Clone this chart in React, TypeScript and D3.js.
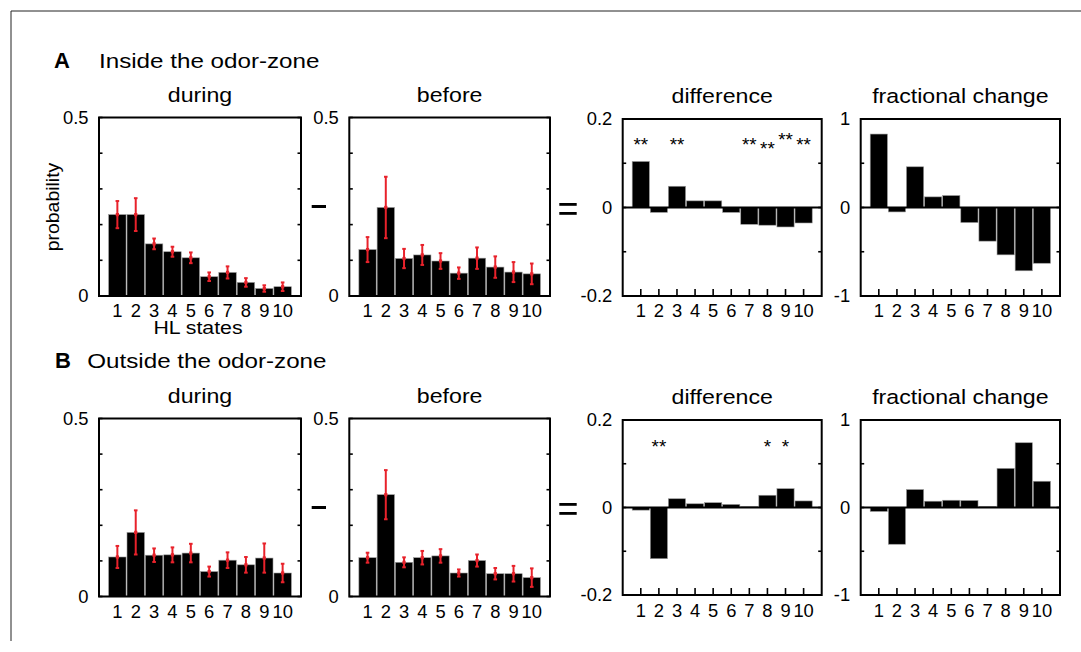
import React from "react";
import * as d3 from "d3";

// HL states 1..10
const states = [1, 2, 3, 4, 5, 6, 7, 8, 9, 10];

// A: inside the odor-zone
const duringInMean = [0.228, 0.228, 0.146, 0.124, 0.107, 0.054, 0.066, 0.038, 0.021, 0.026];
const duringInErr = [0.038, 0.046, 0.015, 0.014, 0.015, 0.012, 0.017, 0.012, 0.009, 0.012];
const beforeInMean = [0.13, 0.248, 0.105, 0.115, 0.098, 0.064, 0.106, 0.081, 0.067, 0.062];
const beforeInErr = [0.035, 0.086, 0.027, 0.028, 0.022, 0.016, 0.03, 0.03, 0.028, 0.029];
const diffIn = [0.104, -0.011, 0.048, 0.015, 0.015, -0.011, -0.038, -0.04, -0.044, -0.035];
const fracIn = [0.83, -0.05, 0.46, 0.12, 0.135, -0.17, -0.38, -0.535, -0.715, -0.63];
const starsIn = ["**", "", "**", "", "", "", "**", "**", "**", "**"];
const starLevelIn = [0.152, 0, 0.152, 0, 0, 0, 0.152, 0.143, 0.162, 0.152];

// B: outside the odor-zone
const duringOutMean = [0.111, 0.18, 0.116, 0.117, 0.122, 0.07, 0.102, 0.089, 0.108, 0.066];
const duringOutErr = [0.031, 0.062, 0.019, 0.021, 0.026, 0.014, 0.022, 0.022, 0.041, 0.026];
const beforeOutMean = [0.109, 0.286, 0.096, 0.109, 0.114, 0.066, 0.101, 0.064, 0.064, 0.053];
const beforeOutErr = [0.014, 0.069, 0.014, 0.019, 0.019, 0.01, 0.017, 0.016, 0.022, 0.026];
const diffOut = [-0.006, -0.117, 0.02, 0.0085, 0.011, 0.007, 0.002, 0.028, 0.043, 0.015];
const fracOut = [-0.045, -0.42, 0.205, 0.072, 0.083, 0.08, 0.011, 0.447, 0.74, 0.3];
const starsOut = ["", "**", "", "", "", "", "", "*", "*", ""];
const starLevelOut = [0, 0.147, 0, 0, 0, 0, 0, 0.147, 0.147, 0];

// axis ticks
const probTicks = [0, 0.1, 0.2, 0.3, 0.4, 0.5];
const probLabels = [[0, "0"], [0.5, "0.5"]];
const diffTicks = [-0.2, -0.1, 0, 0.1, 0.2];
const diffLabels = [[-0.2, "-0.2"], [0, "0"], [0.2, "0.2"]];
const fracTicks = [-1, -0.5, 0, 0.5, 1];
const fracLabels = [[-1, "-1"], [0, "0"], [1, "1"]];

const FONT = '"Liberation Sans", Arial, Helvetica, sans-serif';
const RED = "#e8222b";

function T({ x, y, size = 18, sx = 1, anchor = "start", weight = "normal", rot = 0, children }: any) {
  return (
    <text
      transform={`translate(${x},${y}) rotate(${rot}) scale(${sx},1)`}
      fontSize={size}
      fontFamily={FONT}
      fontWeight={weight}
      textAnchor={anchor}
      fill="#000"
    >
      {children}
    </text>
  );
}

function Panel(props: any) {
  const { x0, x1, y0, y1, domain, values, errors, ticks, labels, stars, starLevel, xTicks, title, lblOff } = props;
  const xs = d3.scaleLinear().domain([0, 11]).range([x0, x1]);
  const ys = d3.scaleLinear().domain(domain).range([y1, y0]);
  const bw = 0.95;
  const bwPx = xs(bw) - xs(0);
  const signed = domain[0] < 0;
  return (
    <g>
      <T x={(x0 + x1) / 2} y={y0 - 16} size={20.5} sx={1.13} anchor="middle">{title}</T>
      {values.map((v: number, i: number) => {
        const base = signed ? 0 : domain[0];
        const top = ys(Math.max(v, base));
        const h = Math.abs(ys(v) - ys(base));
        return (
          <rect key={i} x={xs(states[i]) - bwPx / 2} y={top} width={bwPx} height={h}
            fill="#000" stroke="#9a9a9a" strokeWidth={0.6} />
        );
      })}
      {errors && values.map((v: number, i: number) => {
        const cx = xs(states[i]);
        const a = ys(v + errors[i]);
        const b = ys(v - errors[i]);
        return (
          <g key={"e" + i} stroke={RED} strokeWidth={2}>
            <line x1={cx} x2={cx} y1={a} y2={b} />
            <line x1={cx - 1.8} x2={cx + 1.8} y1={a} y2={a} />
            <line x1={cx - 1.8} x2={cx + 1.8} y1={b} y2={b} />
            <rect x={cx - 1.6} y={ys(v) - 1.6} width={3.2} height={3.2} fill={RED} stroke="none" />
          </g>
        );
      })}
      {signed && <line x1={x0} x2={x1} y1={ys(0)} y2={ys(0)} stroke="#000" strokeWidth={2} />}
      {ticks.map((t: number, i: number) => (
        <g key={"t" + i} stroke="#000" strokeWidth={1.6}>
          <line x1={x0} x2={x0 + 3.5} y1={ys(t)} y2={ys(t)} />
          <line x1={x1 - 3.5} x2={x1} y1={ys(t)} y2={ys(t)} />
        </g>
      ))}
      {xTicks && states.map((s, i) => (
        <line key={"x" + i} x1={xs(s)} x2={xs(s)} y1={y1} y2={y1 - 7} stroke="#000" strokeWidth={1.6} />
      ))}
      <rect x={x0} y={y0} width={x1 - x0} height={y1 - y0} fill="none" stroke="#000" strokeWidth={2} />
      {labels.map(([v, s]: any, i: number) => (
        <T key={"l" + i} x={x0 - 10.5} y={ys(v) + 6.4} size={18} sx={1.02} anchor="end">{s}</T>
      ))}
      {states.map((s, i) => (
        <T key={"n" + i} x={xs(s)} y={y1 + lblOff} size={18} sx={1.02} anchor="middle">{String(s)}</T>
      ))}
      {stars && stars.map((s: string, i: number) => s ? (
        <T key={"s" + i} x={xs(states[i])} y={ys(starLevel[i]) + 10.3} size={18} sx={1.05} anchor="middle">{s}</T>
      ) : null)}
    </g>
  );
}

const cols = [
  { x0: 99, x1: 301 },
  { x0: 349.3, x1: 550 },
  { x0: 622.7, x1: 821.7 },
  { x0: 860.7, x1: 1060 },
];

function Row({ probTop, probBottom, sTop, sBottom, sign, lblOff, dM, dE, bM, bE, diff, frac, stars, starLevel }: any) {
  const mid = (sTop + sBottom) / 2;
  return (
    <g>
      <Panel {...cols[0]} y0={probTop} y1={probBottom} domain={[0, 0.5]} values={dM} errors={dE}
        ticks={probTicks} labels={probLabels} title="during" lblOff={lblOff} />
      <Panel {...cols[1]} y0={probTop} y1={probBottom} domain={[0, 0.5]} values={bM} errors={bE}
        ticks={probTicks} labels={probLabels} title="before" lblOff={lblOff} />
      <Panel {...cols[2]} y0={sTop} y1={sBottom} domain={[-0.2, 0.2]} values={diff} lblOff={lblOff}
        ticks={diffTicks} labels={diffLabels} xTicks stars={stars} starLevel={starLevel} title="difference" />
      <Panel {...cols[3]} y0={sTop} y1={sBottom} domain={[-1, 1]} values={frac} lblOff={lblOff}
        ticks={fracTicks} labels={fracLabels} xTicks title="fractional change" />
      {/* minus and equals signs between panels */}
      <rect x={311.7} y={mid - 1.5 + sign} width={14.3} height={3} fill="#000" />
      <rect x={559.3} y={mid - 4.5} width={17.4} height={2.8} fill="#000" />
      <rect x={559.3} y={mid + 4.5} width={17.4} height={2.8} fill="#000" />
    </g>
  );
}

export default function App() {
  return (
    <svg width={1081} height={652} style={{ position: "absolute", left: 0, top: 0, background: "#fff" }}>
      <rect x={0} y={0} width={1081} height={652} fill="#fff" />
      <line x1={11} x2={1081} y1={11} y2={11} stroke="#222" strokeWidth={1} />
      <line x1={11} x2={11} y1={11} y2={641} stroke="#222" strokeWidth={1} />

      <T x={54} y={68} size={22} weight="bold">A</T>
      <T x={99} y={68} size={20.5} sx={1.18}>Inside the odor-zone</T>
      <Row probTop={117.5} probBottom={296} sTop={119} sBottom={296} sign={-1} lblOff={20.5}
        dM={duringInMean} dE={duringInErr} bM={beforeInMean} bE={beforeInErr}
        diff={diffIn} frac={fracIn} stars={starsIn} starLevel={starLevelIn} />
      <T x={59} y={207} size={18} sx={1.08} rot={-90} anchor="middle">probability</T>
      <T x={198} y={334} size={18.5} sx={1.15} anchor="middle">HL states</T>

      <T x={55} y={368} size={22} weight="bold">B</T>
      <T x={87.3} y={368} size={20.5} sx={1.18}>Outside the odor-zone</T>
      <Row probTop={418.5} probBottom={596.5} sTop={420} sBottom={595} sign={0} lblOff={21.5}
        dM={duringOutMean} dE={duringOutErr} bM={beforeOutMean} bE={beforeOutErr}
        diff={diffOut} frac={fracOut} stars={starsOut} starLevel={starLevelOut} />
    </svg>
  );
}
